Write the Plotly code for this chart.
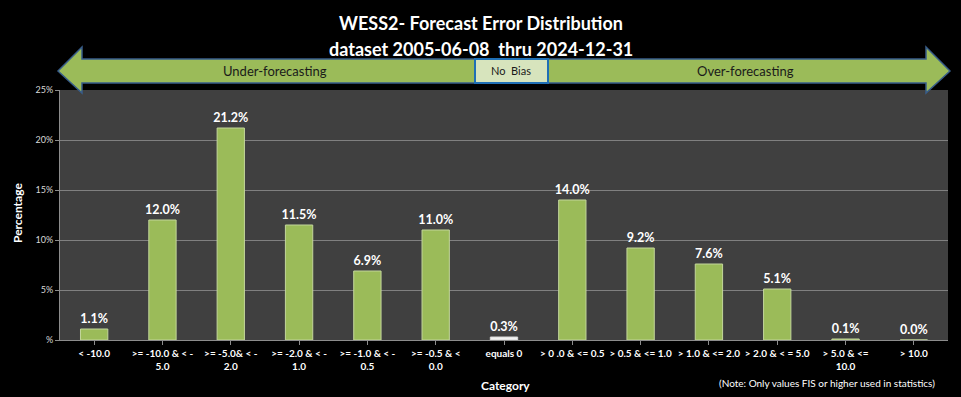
import plotly.graph_objects as go

categories = ["< -10.0", ">= -10.0 & < -<br>5.0", ">= -5.0& < -<br>2.0", ">= -2.0 & < -<br>1.0",
              ">= -1.0 & < -<br>0.5", ">= -0.5 & <<br>0.0", "equals 0", "> 0 .0 & <= 0.5",
              "> 0.5 & <= 1.0", "> 1.0 & <= 2.0", "> 2.0 & < = 5.0", "> 5.0 & <=<br>10.0", "> 10.0"]
values = [1.1, 12.0, 21.2, 11.5, 6.9, 11.0, 0.3, 14.0, 9.2, 7.6, 5.1, 0.1, 0.0]
labels = ["1.1%", "12.0%", "21.2%", "11.5%", "6.9%", "11.0%", "0.3%", "14.0%", "9.2%", "7.6%", "5.1%", "0.1%", "0.0%"]
ytick_vals = [0, 5, 10, 15, 20, 25]
ytick_text = ["%", "5%", "10%", "15%", "20%", "25%"]

W, H = 961, 397
L, R, T, B = 60, 13, 90, 57
PW, PH = W - L - R, H - T - B

def px(x):
    return (x - L) / PW

def py(y):
    return (H - B - y) / PH

FONT = "Lato"
green = "#9BBB59"
colors = [("#F2F2F2" if c == "equals 0" else green) for c in categories]
lines = [("#D9D9D9" if c == "equals 0" else "#C3D69B") for c in categories]

fig = go.Figure()
fig.add_trace(go.Bar(
    x=list(range(len(categories))), y=values, text=labels, textposition="outside",
    constraintext="none",
    textfont=dict(color="white", size=12.5, family=FONT, weight="bold"),
    marker=dict(color=colors, line=dict(color=lines, width=1)),
    cliponaxis=False, width=0.4, hoverinfo="skip",
))

shapes = []
lp = [(58, 71), (82, 47), (82, 59), (475, 59), (475, 83), (82, 83), (82, 93)]
rp = [(950, 71), (926, 47), (926, 59), (548, 59), (548, 83), (926, 83), (926, 93)]
def path(pts):
    return "M " + " L ".join(f"{px(a):.5f},{py(b):.5f}" for a, b in pts) + " Z"
for pts in (lp, rp):
    shapes.append(dict(type="path", xref="paper", yref="paper", path=path(pts),
                       fillcolor=green, line=dict(color="#385D8A", width=1.5), layer="above"))
shapes.append(dict(type="rect", xref="paper", yref="paper", x0=px(475), x1=px(548), y0=py(83), y1=py(59),
                   fillcolor="#D7E4BD", line=dict(color="#1F6FB5", width=2), layer="above"))

annotations = []
for t, y in (("<b>WESS2- Forecast Error Distribution</b>", 23), ("<b>dataset 2005-06-08  thru 2024-12-31</b>", 49)):
    annotations.append(dict(text=t, x=px(481), y=py(y), xref="paper", yref="paper", showarrow=False,
                            xanchor="center", yanchor="middle", font=dict(color="white", size=18, family=FONT)))
for t, x in (("Under-forecasting", 275), ("No  Bias", 511), ("Over-forecasting", 745)):
    annotations.append(dict(text=t, x=px(x), y=py(71), xref="paper", yref="paper", showarrow=False,
                            xanchor="center", yanchor="middle",
                            font=dict(color="#1a1a1a", size=13 if t != "No  Bias" else 11, family=FONT)))
annotations.append(dict(text="<b>Category</b>", x=px(505), y=py(385), xref="paper", yref="paper", showarrow=False,
                        xanchor="center", yanchor="middle", font=dict(color="white", size=12, family=FONT)))
annotations.append(dict(text="<b>Percentage</b>", x=px(17), y=py(213), xref="paper", yref="paper", showarrow=False,
                        textangle=-90, xanchor="center", yanchor="middle", font=dict(color="white", size=12, family=FONT)))
annotations.append(dict(text="(Note: Only values FIS or higher used in statistics)", x=px(937), y=py(383),
                        xref="paper", yref="paper", showarrow=False, xanchor="right", yanchor="middle",
                        font=dict(color="white", size=10, family=FONT)))

fig.update_layout(
    width=W, height=H, margin=dict(l=L, r=R, t=T, b=B, autoexpand=False),
    paper_bgcolor="black", plot_bgcolor="#404040", showlegend=False,
    shapes=shapes, annotations=annotations, bargap=0.6,
    xaxis=dict(tickmode="array", tickvals=list(range(len(categories))), ticktext=[f"<b>{c}</b>" for c in categories],
               range=[-0.5, len(categories) - 0.5], showline=True, linecolor="#8C8C8C", ticks="outside",
               tickson="boundaries", ticklen=4, tickcolor="#8C8C8C", showgrid=False,
               tickfont=dict(color="white", size=10, family=FONT), tickangle=0),
    yaxis=dict(range=[0, 25], tickvals=ytick_vals, ticktext=ytick_text, showline=True, linecolor="#8C8C8C",
               gridcolor="#808080", gridwidth=1, ticks="outside", ticklen=4, tickcolor="#8C8C8C",
               tickfont=dict(color="#D9D9D9", size=9, family=FONT), zeroline=False),
)
fig.write_html("out.html", config={"displayModeBar": False},
               post_script="document.body.style.margin='0';document.body.style.background='black';")
